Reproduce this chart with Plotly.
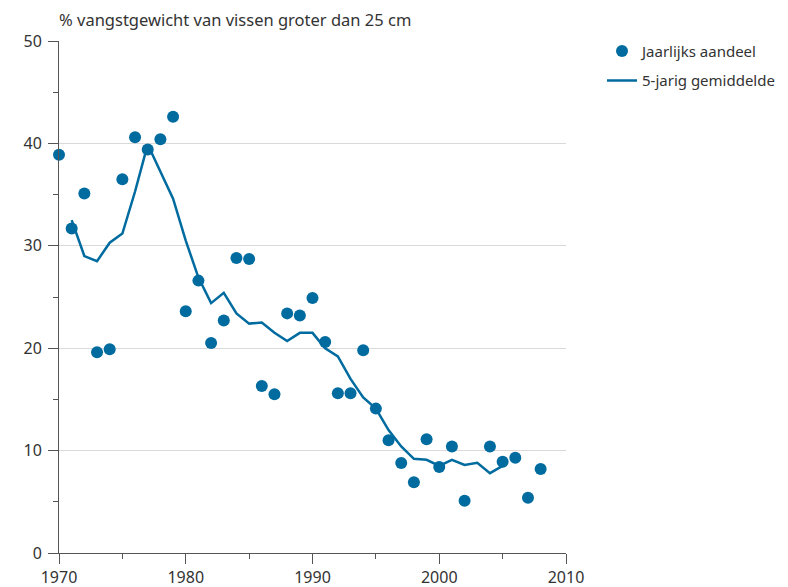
import plotly.graph_objects as go

years = list(range(1970, 2009))
jaarlijks = [38.9, 31.7, 35.1, 19.6, 19.9, 36.5, 40.6, 39.4, 40.4, 42.6,
             23.6, 26.6, 20.5, 22.7, 28.8, 28.7, 16.3, 15.5, 23.4, 23.2,
             24.9, 20.6, 15.6, 15.6, 19.8, 14.1, 11.0, 8.8, 6.9, 11.1,
             8.4, 10.4, 5.1, None, 10.4, 8.9, 9.3, 5.4, 8.2]

avg_years = list(range(1971, 2006))
gemiddelde = [32.5, 29.0, 28.5, 30.3, 31.2, 35.3, 39.9, 37.3, 34.6, 30.5,
              26.9, 24.4, 25.4, 23.4, 22.4, 22.5, 21.5, 20.7, 21.5, 21.5,
              20.0, 19.2, 17.0, 15.2, 14.1, 12.0, 10.4, 9.2, 9.1, 8.5,
              9.1, 8.6, 8.8, 7.8, 8.5]

y_title = "% vangstgewicht van vissen groter dan 25 cm"
color = "#006b9f"
text_color = "#333333"
font_family = "Noto Sans, Open Sans, sans-serif"

fig = go.Figure()
fig.add_trace(go.Scatter(
    x=years, y=jaarlijks, mode="markers", name="Jaarlijks aandeel",
    marker=dict(color=color, size=12), cliponaxis=False, legendgroup="a",
))
fig.add_trace(go.Scatter(
    x=avg_years, y=gemiddelde, mode="lines", name="5-jarig gemiddelde",
    line=dict(color=color, width=2.5), cliponaxis=False, legendgroup="b",
))

fig.update_layout(
    width=780, height=579,
    margin=dict(l=51, r=222, t=33, b=34, autoexpand=False),
    plot_bgcolor="white", paper_bgcolor="white",
    font=dict(family=font_family, size=15, color=text_color),
    showlegend=True,
    legend=dict(x=1.071, y=1.012, xanchor="left", yanchor="top",
                font=dict(size=15, color=text_color), itemwidth=30,
                tracegroupgap=7, bgcolor="rgba(0,0,0,0)"),
    xaxis=dict(range=[1970, 2010], tickmode="linear", tick0=1970, dtick=10,
               ticks="outside", ticklen=10, tickcolor="#555555", tickwidth=1,
               showline=True, linecolor="#555555", linewidth=1,
               showgrid=False, zeroline=False, automargin=False,
               minor=dict(dtick=5, ticks="outside", ticklen=5, tickcolor="#555555", showgrid=False),
               tickfont=dict(size=16, color=text_color)),
    yaxis=dict(range=[0, 50], tickmode="linear", tick0=0, dtick=10,
               ticks="outside", ticklen=10, tickcolor="#555555", tickwidth=1,
               showline=True, linecolor="#555555", linewidth=1,
               showgrid=True, gridcolor="#d9d9d9", gridwidth=1, zeroline=False,
               automargin=False, ticklabelstandoff=3,
               minor=dict(dtick=5, ticks="outside", ticklen=5, tickcolor="#555555", showgrid=False),
               tickfont=dict(size=16, color=text_color)),
    annotations=[dict(text=y_title, xref="paper", yref="paper", x=0, y=1,
                      xanchor="left", yanchor="bottom", yshift=8, xshift=-2, showarrow=False,
                      font=dict(size=16.5, color=text_color))],
)

fig.write_html("out.html")
